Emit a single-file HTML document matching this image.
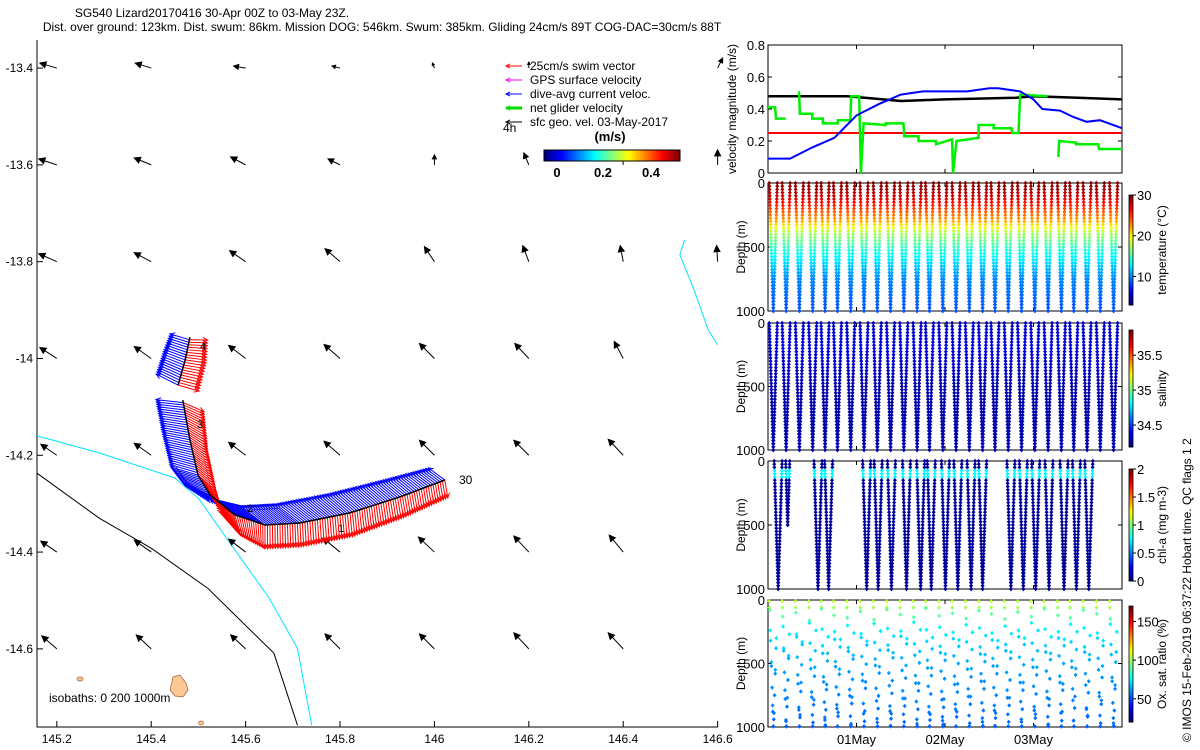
<!DOCTYPE html>
<html><head><meta charset="utf-8">
<style>
html,body{margin:0;padding:0;background:#fff;}
svg{display:block;font-family:"Liberation Sans",sans-serif;}
</style></head>
<body>
<svg id="chart" width="1200" height="750" viewBox="0 0 1200 750">
<text x="212" y="17" font-size="12" text-anchor="middle">SG540 Lizard20170416 30-Apr 00Z to 03-May 23Z.</text>
<text x="382" y="31" font-size="12" text-anchor="middle">Dist. over ground: 123km. Dist. swum: 86km. Mission DOG: 546km. Swum: 385km. Gliding 24cm/s 89T COG-DAC=30cm/s 88T</text>
<g id="map"></g>
<g id="vel"></g>
<g id="temp"></g>
<g id="sal"></g>
<g id="chl"></g>
<g id="ox"></g>
<text transform="translate(1191,742) rotate(-90)" font-size="12">© IMOS 15-Feb-2019 06:37:22 Hobart time. QC flags 1  2</text>
</svg>
<script>
// ---------- data ----------
const lonTicks=[145.2,145.4,145.6,145.8,146,146.2,146.4,146.6];
const latTicks=[-13.4,-13.6,-13.8,-14,-14.2,-14.4,-14.6];
const geoU=[
[-0.34,-0.32,-0.24,-0.16,-0.04,0.0,0,0.1],
[-0.36,-0.34,-0.3,-0.24,0.0,-0.1,-0.02,0.0],
[-0.36,-0.34,-0.32,-0.3,-0.2,-0.12,-0.06,-0.02],
[-0.34,-0.34,-0.34,-0.32,-0.3,-0.28,-0.18,0],
[-0.32,-0.34,-0.34,-0.32,-0.3,-0.3,-0.3,0],
[-0.32,-0.34,-0.34,-0.34,-0.32,-0.3,-0.28,0],
[-0.3,-0.3,-0.3,-0.3,-0.3,-0.3,-0.3,0]];
const geoV=[
[0.1,0.1,0.04,0.04,0.1,0.12,0,0.2],
[0.12,0.14,0.16,0.12,0.2,0.24,0.24,0.3],
[0.16,0.18,0.22,0.26,0.3,0.32,0.32,0.32],
[0.22,0.24,0.26,0.28,0.3,0.3,0.34,0],
[0.22,0.24,0.26,0.28,0.3,0.3,0.32,0],
[0.22,0.24,0.26,0.28,0.3,0.32,0.34,0],
[0.26,0.28,0.28,0.3,0.3,0.32,0.32,0]];
const trackLon=[146.022,145.927,145.821,145.715,145.641,145.577,145.525,145.499,145.482,145.467,null,145.457,145.472,145.482];
const trackLat=[-14.251,-14.286,-14.319,-14.340,-14.344,-14.323,-14.282,-14.241,-14.168,-14.086,null,-14.055,-14.003,-13.956];
const curU=[-0.3,-0.35,-0.4,-0.45,-0.45,-0.5,-0.5,-0.5,-0.5,-0.5,null,-0.4,-0.4,-0.35];
const curV=[0.22,0.3,0.35,0.35,0.35,0.3,0.22,0.15,0.1,0.05,null,0.2,0.15,0.1];
const swimU=[0.05,0.06,0.04,0.02,0.0,0.1,0.2,0.3,0.3,0.35,null,0.35,0.35,0.3];
const swimV=[-0.3,-0.35,-0.4,-0.4,-0.4,-0.35,-0.3,-0.25,-0.2,-0.15,null,-0.1,-0.05,0.0];
const iso200Lon=[145.158,145.29,145.4,145.52,145.66,145.71];
const iso200Lat=[-14.237,-14.33,-14.392,-14.475,-14.609,-14.758];
const iso1000Lon=[145.158,145.29,145.45,145.50,145.59,145.65,145.71,145.74];
const iso1000Lat=[-14.16,-14.195,-14.247,-14.289,-14.413,-14.495,-14.599,-14.758];
const iso1000bLon=[146.53,146.52,146.55,146.58,146.6];
const iso1000bLat=[-13.755,-13.786,-13.858,-13.941,-13.972];
// velocity panel (time in days since 30-Apr 00Z)
const blueT=[0,0.25,0.5,0.75,1.0,1.25,1.5,1.75,2.0,2.25,2.5,2.6,2.85,3.0,3.1,3.3,3.45,3.6,3.75,4.0];
const blueV=[0.09,0.09,0.16,0.22,0.36,0.43,0.49,0.51,0.51,0.51,0.53,0.53,0.51,0.46,0.40,0.39,0.35,0.32,0.33,0.28];
const blackT=[0,0.9,1.3,1.5,2.0,2.8,3.0,3.5,4.0];
const blackV=[0.48,0.48,0.46,0.45,0.46,0.47,0.48,0.47,0.46];
const redT=[0,4];
const redV=[0.25,0.25];
const greenT=[0,0.08,0.09,0.2,null,0.35,0.36,0.5,0.5,0.62,0.62,0.79,0.79,0.93,0.94,1.03,1.05,1.08,1.33,1.33,1.53,1.54,1.7,1.7,1.9,1.9,2.08,2.09,2.13,2.38,2.38,2.55,2.55,2.75,2.76,2.83,2.85,3.16,null,3.28,3.29,3.48,3.48,3.73,3.74,4.0];
const greenV=[0.41,0.41,0.34,0.34,null,0.51,0.37,0.37,0.34,0.34,0.31,0.31,0.33,0.33,0.48,0.48,0,0.31,0.30,0.31,0.31,0.23,0.23,0.2,0.2,0.18,0.21,0,0.2,0.22,0.3,0.3,0.28,0.28,0.25,0.25,0.49,0.48,null,0.1,0.2,0.19,0.18,0.18,0.15,0.15];
const velTicks=[0,0.2,0.4,0.6,0.8];
// dives
const diveT=[0.015,0.16,0.31,0.46,0.6,0.74,0.89,1.04,1.19,1.34,1.49,1.64,1.78,1.93,2.08,2.23,2.38,2.52,2.67,2.82,2.97,3.12,3.27,3.41,3.56,3.71,3.86];
const profDepth=[0,100,200,300,380,450,550,750,1000];
const profTemp=[30,28,25,22,18,16,13.5,10,8.5];
const profSal=[34.6,34.7,34.8,34.7,34.6,34.5,34.45,34.45,34.5];
const chlT=[0.07,0.2,0.52,0.64,1.07,1.2,1.35,1.52,1.68,1.8,1.96,2.1,2.25,2.38,2.7,2.84,2.98,3.13,3.3,3.44,3.58];
const chlMax=[1000,500,1000,1000,1000,1000,1000,1000,1000,1000,1000,1000,1000,1000,1000,1000,1000,1000,1000,1000,1000];
const chlVal=[0.05,0.05,0.05,0.05,0.05,0.05,0.05,0.05,0.05,0.05,0.05,0.05,0.05,0.05,0.05,0.05,0.05,0.05,0.05,0.05,0.05];
const oxDepth=[10,60,110,220,330,440,560,680,800,900,990];
const oxVal=[105,100,90,75,70,66,62,60,58,56,55];
const oxShift=[0,40,-30,20,-10,50,-40,10,30,-20,45,-35,5,25,-45,15,-5,35,-25,0,40,-15,20,-40,10,30,-30];
// ---------- helpers ----------
const NS='http://www.w3.org/2000/svg';
function mk(tag,attrs,parent){const e=document.createElementNS(NS,tag);for(const k in attrs)e.setAttribute(k,attrs[k]);parent.appendChild(e);return e;}
function jet(f){f=Math.max(0,Math.min(1,f));const r=Math.max(0,Math.min(1,1.5-Math.abs(4*f-3))),g=Math.max(0,Math.min(1,1.5-Math.abs(4*f-2))),b=Math.max(0,Math.min(1,1.5-Math.abs(4*f-1)));return `rgb(${Math.round(r*255)},${Math.round(g*255)},${Math.round(b*255)})`;}
function interp(xs,ys,x){for(let i=1;i<xs.length;i++){if(x<=xs[i]){const f=(x-xs[i-1])/(xs[i]-xs[i-1]);return ys[i-1]+f*(ys[i]-ys[i-1]);}}return ys[ys.length-1];}
function arrow(g,x,y,dx,dy,col,w,name,filled){
 const L=Math.hypot(dx,dy); if(L<0.5)return;
 const ux=dx/L,uy=dy/L,hx=x+dx,hy=y+dy,h=Math.min(filled?6:5,L*0.4);
 let d=`M${x},${y}L${hx},${hy}`;
 const hp=`M${hx-ux*h-uy*h*0.5},${hy-uy*h+ux*h*0.5}L${hx},${hy}L${hx-ux*h+uy*h*0.5},${hy-uy*h-ux*h*0.5}`;
 const a=mk('path',{d:d+hp+(filled?'Z':''),stroke:col,'stroke-width':w,fill:filled?col:'none'},g);
 
 
}
// ---------- map ----------
const map=document.getElementById('map');
const LX=l=>37+(l-145.158)*472, LY=la=>40+(-13.342-la)*484;
mk('path',{d:'M37,40L37,727L718,727',stroke:'#000',fill:'none','stroke-width':1},map);
lonTicks.forEach(l=>{const x=LX(l);mk('line',{x1:x,y1:727,x2:x,y2:721,stroke:'#000'},map);
 const t=mk('text',{x:x,y:743,'font-size':12,'text-anchor':'middle'},map);t.textContent=String(l);
 
 });
latTicks.forEach(la=>{const y=LY(la);mk('line',{x1:37,y1:y,x2:43,y2:y,stroke:'#000'},map);
 const t=mk('text',{x:33,y:y+4,'font-size':12,'text-anchor':'end'},map);t.textContent=String(la);
 
 });
function pl(lons,lats,col,name){let d='',pen=false;lons.forEach((l,i)=>{if(l===null){pen=false;return;}d+=(pen?'L':'M')+LX(l).toFixed(1)+','+LY(lats[i]).toFixed(1);pen=true;});
 const p=mk('path',{d:d,stroke:col,fill:'none','stroke-width':1},map);
 
 return p;}
pl(iso200Lon,iso200Lat,'#000','isobath-200m');
pl(iso1000Lon,iso1000Lat,'#00e5ff','isobath-1000m');
pl(iso1000bLon,iso1000bLat,'#00e5ff','isobath-1000m-east');
// islands
mk('path',{d:'M173,677L180,675L186,683L188,690L183,697L175,696L170,690Z',fill:'#fdc896',stroke:'#a06030','stroke-width':0.7},map);
mk('ellipse',{cx:80,cy:679,rx:3,ry:2,fill:'#fdc896',stroke:'#a06030','stroke-width':0.7},map);
mk('ellipse',{cx:201,cy:723,rx:2.5,ry:2,fill:'#fdc896',stroke:'#a06030','stroke-width':0.7},map);
const iso=mk('text',{x:49,y:702,'font-size':12},map);iso.textContent='isobaths: 0   200  1000m';


// geo arrows
latTicks.forEach((la,r)=>lonTicks.forEach((l,c)=>{arrow(map,LX(l),LY(la),geoU[r][c]*50,-geoV[r][c]*50,'#000',1,'geo-velocity-arrow',true);}));
// track vectors
for(let i=0;i<trackLon.length-1;i++){
 if(trackLon[i]===null||trackLon[i+1]===null)continue;
 const x0=LX(trackLon[i]),y0=LY(trackLat[i]),x1=LX(trackLon[i+1]),y1=LY(trackLat[i+1]);
 const n=Math.max(4,Math.round(Math.hypot(x1-x0,y1-y0)/2.5));
 for(let k=0;k<n;k++){const f=k/n,x=x0+f*(x1-x0),y=y0+f*(y1-y0);
  const cu=curU[i]+f*(curU[i+1]-curU[i]),cv=curV[i]+f*(curV[i+1]-curV[i]);
  const su=swimU[i]+f*(swimU[i+1]-swimU[i]),sv=swimV[i]+f*(swimV[i+1]-swimV[i]);
  arrow(map,x,y,cu*55,-cv*55,'#0000ff',1,'current-vector');
  arrow(map,x,y,su*60,-sv*60,'#ff0000',1,'swim-vector');}
}
pl(trackLon,trackLat,'#000','glider-track').setAttribute('stroke-width',1.5);
const lb30=mk('text',{x:459,y:484,'font-size':12},map);lb30.textContent='30';


[['3',197,428],['4',200,350],['1',338,532],['2',247,512]].forEach(a=>{const t=mk('text',{x:a[1],y:a[2],'font-size':11},map);t.textContent=a[0];
 
 });
// legend
const leg=[['#ff0000','25cm/s swim vector'],['#ff00ff','GPS surface velocity'],['#0000ff','dive-avg current veloc.'],['#00dd00','net glider velocity'],['#000','sfc geo. vel. 03-May-2017']];
leg.forEach((e,i)=>{const y=66+i*14;mk('line',{x1:506,y1:y,x2:522,y2:y,stroke:e[0],'stroke-width':i==3?3:1},map);mk('path',{d:`M510,${y-2}L506,${y}L510,${y+2}`,fill:'none',stroke:e[0]},map);
 const t=mk('text',{x:530,y:y+4,'font-size':12},map);t.textContent=e[1];
 
 });
const t4=mk('text',{x:503,y:132,'font-size':12},map);t4.textContent='4h';


const tu=mk('text',{x:610,y:141,'font-size':13,'font-weight':'bold','text-anchor':'middle'},map);tu.textContent='(m/s)';


for(let i=0;i<68;i++)mk('rect',{x:544+i*2,y:150,width:2.2,height:11,fill:jet(i/67)},map);
mk('rect',{x:544,y:150,width:136,height:11,fill:'none',stroke:'#000'},map);
[['0',557],['0.2',603],['0.4',651]].forEach(a=>{const t=mk('text',{x:a[1],y:177,'font-size':13,'font-weight':'bold','text-anchor':'middle'},map);t.textContent=a[0];
 
 });
// ---------- right panels ----------
const PX0=768,PX1=1122,TX=t=>PX0+t*(PX1-PX0)/4;
function frame(g,y0,y1,ticks,labels,yfun,title){
 mk('rect',{x:PX0,y:y0,width:PX1-PX0,height:y1-y0,fill:'none',stroke:'#000'},g);
 ticks.forEach((v,i)=>{const y=yfun(v);mk('line',{x1:PX0,y1:y,x2:PX0+4,y2:y,stroke:'#000'},g);mk('line',{x1:PX1,y1:y,x2:PX1-4,y2:y,stroke:'#000'},g);
  const t=mk('text',{x:PX0-3,y:y+5,'font-size':13,'text-anchor':'end'},g);t.textContent=labels[i];
  
  });
 [1,2,3].forEach(d=>{mk('line',{x1:TX(d),y1:y1,x2:TX(d),y2:y1-4,stroke:'#000'},g);mk('line',{x1:TX(d),y1:y0,x2:TX(d),y2:y0+4,stroke:'#000'},g);});
 const t=mk('text',{transform:`translate(${title[1]},${(y0+y1)/2}) rotate(-90)`,'font-size':12,'text-anchor':'middle'},g);t.textContent=title[0];
 
 
}
// velocity
const vel=document.getElementById('vel');
const VY=v=>173-v*160;
frame(vel,45,173,velTicks,['0','0.2','0.4','0.6','0.8'],VY,['velocity magnitude (m/s)',736]);
function vline(ts,vs,col,w,name){let d='',pen=false;ts.forEach((t,i)=>{if(t===null){pen=false;return;}d+=(pen?'L':'M')+TX(t).toFixed(1)+','+VY(vs[i]).toFixed(1);pen=true;});
 const p=mk('path',{d:d,stroke:col,fill:'none','stroke-width':w},vel);
 
 }
vline(redT,redV,'#ff0000',2,'swim-speed-line');
vline(blackT,blackV,'#000',2.5,'glider-speed-line');
vline(greenT,greenV,'#00ee00',2.5,'net-velocity-line');
vline(blueT,blueV,'#0000ff',2,'current-speed-line');
// depth panels
const dTicks=[0,500,1000];
function depthPanel(id,y0,y1,title,cb,cbLabels){
 const g=document.getElementById(id);const DY=d=>y0+d*(y1-y0)/1000;
 frame(g,y0,y1,dTicks,['0','500','1000'],DY,[title,745]);
 for(let i=0;i<40;i++)mk('rect',{x:1129,y:cb[0]+(cb[1]-cb[0])*(39-i)/40,width:4,height:(cb[1]-cb[0])/40+0.5,fill:jet(i/39)},g);
 mk('rect',{x:1129,y:cb[0],width:4,height:cb[1]-cb[0],fill:'none',stroke:'#000','stroke-width':0.8},g);
 cbLabels.forEach(a=>{const y=cb[1]-(a[0]-cb[2])/(cb[3]-cb[2])*(cb[1]-cb[0]);mk('line',{x1:1133,y1:y,x2:1136,y2:y,stroke:'#000'},g);
  const t=mk('text',{x:1137,y:y+5,'font-size':13},g);t.textContent=a[1];
  
  });
 const tt=mk('text',{transform:`translate(1166,${(cb[0]+cb[1])/2}) rotate(-90)`,'font-size':12,'text-anchor':'middle'},g);tt.textContent=cb[4];
 
 
 return {g,DY};
}
function dot(g,x,y,col,name){const p=mk('path',{d:`M${x},${y-2.2}L${x+2},${y}L${x},${y+2.2}L${x-2},${y}Z`,fill:col},g);
 
 }
function divePoints(P,t0,maxD,colFn,name){const w=0.09*(maxD/1000);for(let d=0;d<=maxD;d+=25){const f=d/maxD;
 dot(P.g,TX(t0+f*w/2),P.DY(d),colFn(d),name);dot(P.g,TX(t0+w-f*w/2),P.DY(d),colFn(d),name);}}
const T=depthPanel('temp',183,311,'Depth (m)',[195,305,3,30,'temperature (°C)'],[[30,'30'],[20,'20'],[10,'10']]);
diveT.forEach(t=>divePoints(T,t,1000,d=>jet((interp(profDepth,profTemp,d)-3)/27),'temperature-point'));
const S=depthPanel('sal',323,450,'Depth (m)',[330,447,34.186,35.86,'salinity'],[[35.5,'35.5'],[35,'35'],[34.5,'34.5']]);
diveT.forEach(t=>divePoints(S,t,1000,d=>jet((interp(profDepth,profSal,d)-34.2)/1.8*0.3),'salinity-point'));
const C=depthPanel('chl',461,589,'Depth (m)',[469,581,0,2,'chl-a (mg m-3)'],[[2,'2'],[1.5,'1.5'],[1,'1'],[0.5,'0.5'],[0,'0']]);
chlT.forEach((t,i)=>divePoints(C,t,chlMax[i],d=>jet(d>=75&&d<=125?0.37:chlVal[i]/2),'chlorophyll-point'));
const O=depthPanel('ox',600,727,'Depth (m)',[606,722,20,170,'Ox. sat. ratio (%)'],[[150,'150'],[100,'100'],[50,'50']]);
diveT.forEach((t,i)=>oxDepth.forEach((d,k)=>{const dd=Math.max(5,Math.min(995,d+(k>1?oxShift[(i+k)%oxShift.length]:0)));const f=dd/1000;
 dot(O.g,TX(t+0.045*f),O.DY(dd),jet((oxVal[k]-20)/150),'oxygen-point');
 if(k>2)dot(O.g,TX(t+0.09-0.045*f),O.DY(Math.min(995,dd+60)),jet((oxVal[k]-22)/150),'oxygen-point');}));
[['01May',1],['02May',2],['03May',3]].forEach(a=>{const t=mk('text',{x:TX(a[1]),y:744,'font-size':13,'text-anchor':'middle'},document.getElementById('ox'));t.textContent=a[0];
 
 });
</script>
</body></html>
